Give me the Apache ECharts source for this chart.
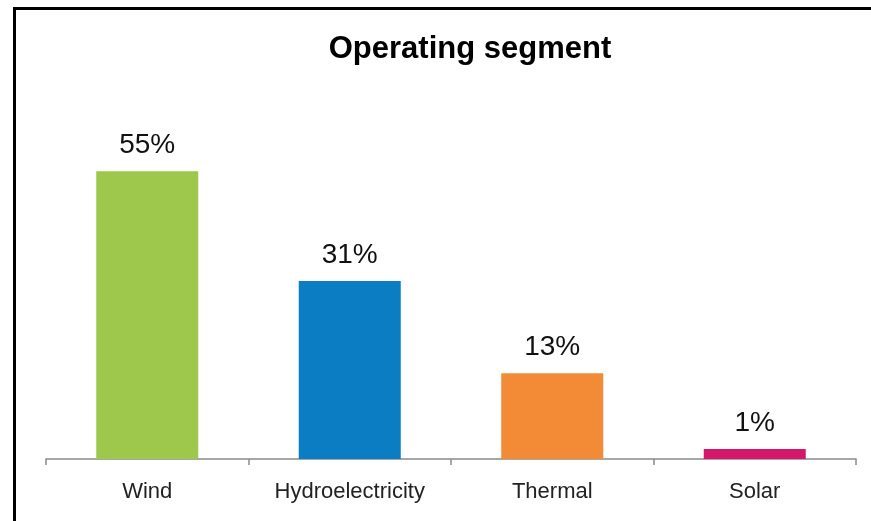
<!DOCTYPE html>
<html>
<head>
<meta charset="utf-8">
<script src="https://cdn.jsdelivr.net/npm/echarts@6/dist/echarts.min.js"></script>
<style>
html,body{margin:0;padding:0;background:#fff;}
#chart{width:871px;height:521px;}
</style>
</head>
<body>
<div id="chart"></div>
<script>
// Data
const categories = ['Wind', 'Hydroelectricity', 'Thermal', 'Solar'];
// bar heights as drawn in the picture (same scale as Wind = 55)
const barValues = [55, 34, 16.4, 1.9];
// value labels printed above the bars
const valueLabels = ['55%', '31%', '13%', '1%'];
const barColors = ['#9dc84b', '#0b7dc2', '#f28a36', '#d4176b'];

const chart = echarts.init(document.getElementById('chart'), null, {renderer: 'canvas'});
const FONT = '"Liberation Sans", Arial, sans-serif';

chart.setOption({
  animation: false,
  backgroundColor: '#ffffff',
  title: {
    text: 'Operating segment',
    left: 465,
    top: 29,
    textAlign: 'center',
    textStyle: {fontFamily: FONT, fontSize: 31, fontWeight: 'bold', color: '#000'}
  },
  graphic: [
    {type: 'line', shape: {x1: 14.5, y1: 7, x2: 14.5, y2: 521}, style: {stroke: '#000', lineWidth: 3}},
    {type: 'line', shape: {x1: 13, y1: 8.5, x2: 871, y2: 8.5}, style: {stroke: '#000', lineWidth: 3}}
  ],
  grid: {left: 46, right: 15, top: 145, bottom: 62, containLabel: false},
  xAxis: {
    type: 'category',
    data: categories,
    boundaryGap: true,
    axisLine: {show: true, lineStyle: {color: '#8a8a8a', width: 1.5}},
    axisTick: {show: true, alignWithLabel: false, length: 6, lineStyle: {color: '#8a8a8a', width: 1.5}},
    axisLabel: {fontFamily: FONT, fontSize: 22, color: '#222', margin: 22}
  },
  yAxis: {
    type: 'value',
    min: 0,
    max: 60,
    show: false,
    splitLine: {show: false}
  },
  series: [{
    type: 'bar',
    barWidth: 102,
    data: barValues.map((v, i) => ({
      value: v,
      itemStyle: {color: barColors[i]},
      label: {formatter: valueLabels[i]}
    })),
    label: {
      show: true,
      position: 'top',
      distance: 12,
      fontFamily: FONT,
      fontSize: 28,
      color: '#111'
    }
  }]
});
</script>
</body>
</html>
